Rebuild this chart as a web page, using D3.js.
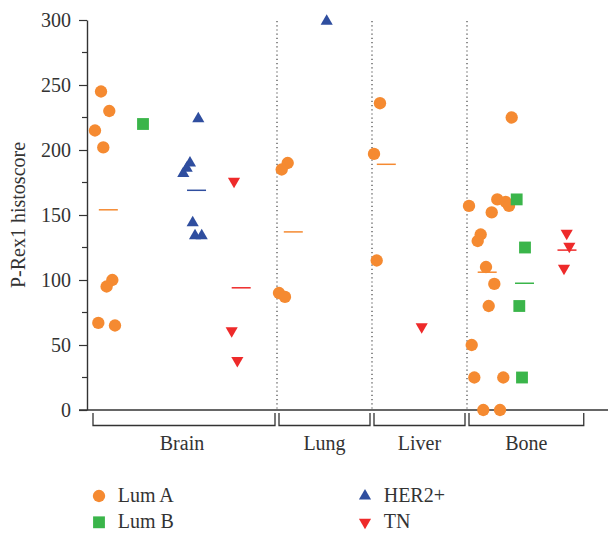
<!DOCTYPE html>
<html>
<head>
<meta charset="utf-8">
<script src="https://cdn.jsdelivr.net/npm/d3@7"></script>
<style>
  body { margin: 0; background: #fff; overflow: hidden; }
  text { font-family: "Liberation Serif", "DejaVu Serif", serif; fill: #333; }
</style>
</head>
<body>
<svg id="chart" width="608" height="535"></svg>
<script>
// sites along the x axis, in column units
var sites = ['Brain', 'Lung', 'Liver', 'Bone'];
var siteStart = [0, 4, 6, 8];
var siteEnd = [4, 6, 8, 10.5];

var yTicks = [0, 50, 100, 150, 200, 250, 300];
var yMinorTicks = [25, 75, 125, 175, 225, 275];

// points: x = column position (jittered), v = histoscore
var lumA = [
  {x: 0.295, v: 245}, {x: 0.469, v: 230}, {x: 0.168, v: 215}, {x: 0.343, v: 202},
  {x: 0.533, v: 100}, {x: 0.413, v: 95}, {x: 0.238, v: 67}, {x: 0.589, v: 65},
  {x: 4.225, v: 190}, {x: 4.099, v: 185}, {x: 4.042, v: 90}, {x: 4.168, v: 87},
  {x: 6.168, v: 236}, {x: 6.042, v: 197}, {x: 6.099, v: 115},
  {x: 8.941, v: 225}, {x: 8.638, v: 162}, {x: 8.042, v: 157}, {x: 8.520, v: 152},
  {x: 8.815, v: 160}, {x: 8.884, v: 157}, {x: 8.288, v: 135}, {x: 8.225, v: 130},
  {x: 8.400, v: 110}, {x: 8.575, v: 97}, {x: 8.457, v: 80}, {x: 8.099, v: 50},
  {x: 8.154, v: 25}, {x: 8.764, v: 25}, {x: 8.343, v: 0}, {x: 8.695, v: 0}
];
var lumB = [
  {x: 1.179, v: 220},
  {x: 9.046, v: 162}, {x: 9.221, v: 125}, {x: 9.101, v: 80}, {x: 9.158, v: 25}
];
var her2 = [
  {x: 2.343, v: 224}, {x: 2.168, v: 190}, {x: 2.099, v: 186}, {x: 2.027, v: 182},
  {x: 2.225, v: 144}, {x: 2.274, v: 134}, {x: 2.415, v: 134},
  {x: 5.046, v: 299}
];
var tn = [
  {x: 3.095, v: 176}, {x: 3.046, v: 61}, {x: 3.165, v: 38},
  {x: 7.046, v: 64},
  {x: 10.099, v: 136}, {x: 10.154, v: 126}, {x: 10.042, v: 109}
];

// group mean lines: x = centre of the line, v = value
var lumAMeans = [{x: 0.449, v: 154}, {x: 4.343, v: 137}, {x: 6.301, v: 189}, {x: 8.425, v: 106}];
var lumBMeans = [{x: 9.211, v: 97.5}];
var her2Means = [{x: 2.306, v: 169}];
var tnMeans = [{x: 3.246, v: 94}, {x: 10.105, v: 123}];

var series = [
  {name: 'Lum A', color: '#f58a31', shape: 'circle', points: lumA, means: lumAMeans},
  {name: 'Lum B', color: '#3ab54a', shape: 'square', points: lumB, means: lumBMeans},
  {name: 'HER2+', color: '#2f4e9f', shape: 'up', points: her2, means: her2Means},
  {name: 'TN', color: '#ee2a2a', shape: 'down', points: tn, means: tnMeans}
];

var svg = d3.select('#chart');
var axisColor = '#333';
var fontSize = '20px';

var x = d3.scaleLinear().domain([0, 11]).range([87, 609.5]);
var y = d3.scaleLinear().domain([0, 300]).range([410, 20]);

function shapePath(shape) {
  if (shape == 'circle') return d3.symbol(d3.symbolCircle, 120)();
  if (shape == 'square') return d3.symbol(d3.symbolSquare, 140)();
  return d3.symbol(d3.symbolTriangle, 64)();
}
function shapeTransform(shape, px, py) {
  return 'translate(' + px + ',' + py + ')' + (shape == 'down' ? ' rotate(180)' : '');
}

// dotted separators between sites
svg.append('g').selectAll('line')
  .data(siteStart.slice(1))
  .enter().append('line')
    .attr('x1', function (d) { return x(d); })
    .attr('x2', function (d) { return x(d); })
    .attr('y1', y(300) + 1)
    .attr('y2', y(0))
    .attr('stroke', '#444')
    .attr('stroke-width', 1.2)
    .attr('stroke-dasharray', '1.2,3');

// y axis
var yAxis = svg.append('g')
  .attr('transform', 'translate(' + x(0) + ',0)')
  .call(d3.axisLeft(y).tickValues(yTicks).tickSize(8).tickSizeOuter(0).tickPadding(8));
yAxis.select('.domain').attr('stroke', axisColor).attr('stroke-width', 1.4);
yAxis.selectAll('.tick line').attr('stroke', axisColor).attr('stroke-width', 1.2);
yAxis.selectAll('.tick text')
  .attr('fill', axisColor)
  .style('font-family', '"Liberation Serif", serif')
  .style('font-size', fontSize);

svg.append('g').selectAll('line')
  .data(yMinorTicks)
  .enter().append('line')
    .attr('x1', x(0) - 5)
    .attr('x2', x(0))
    .attr('y1', function (d) { return y(d); })
    .attr('y2', function (d) { return y(d); })
    .attr('stroke', axisColor)
    .attr('stroke-width', 1.2);

// baseline
svg.append('line')
  .attr('x1', x(0) - 8).attr('x2', x(11))
  .attr('y1', y(0)).attr('y2', y(0))
  .attr('stroke', axisColor)
  .attr('stroke-width', 1.4);

// y title, centred on the axis
svg.append('text')
  .attr('transform', 'translate(25,' + (y(0) + y(300)) / 2 + ') rotate(-90)')
  .attr('text-anchor', 'middle')
  .style('font-size', fontSize)
  .text('P-Rex1 histoscore');

// site brackets and labels
var bracketTop = y(0) + 3, bracketBottom = y(0) + 15.5;
var brackets = svg.append('g').selectAll('g')
  .data(sites)
  .enter().append('g');

brackets.append('path')
  .attr('d', function (d, i) {
    var x0 = x(siteStart[i]) + (i == 0 ? 6 : 2),
        x1 = x(siteEnd[i]) - 2;
    return 'M' + x0 + ',' + bracketTop + 'V' + bracketBottom + 'H' + x1 + 'V' + bracketTop;
  })
  .attr('fill', 'none')
  .attr('stroke', axisColor)
  .attr('stroke-width', 1.3);

brackets.append('text')
  .attr('x', function (d, i) { return (x(siteStart[i]) + x(siteEnd[i])) / 2; })
  .attr('y', y(0) + 39.5)
  .attr('text-anchor', 'middle')
  .style('font-size', fontSize)
  .text(function (d) { return d; });

// mean lines
series.forEach(function (s) {
  svg.append('g').selectAll('line')
    .data(s.means)
    .enter().append('line')
      .attr('x1', function (d) { return x(d.x) - 9.5; })
      .attr('x2', function (d) { return x(d.x) + 9.5; })
      .attr('y1', function (d) { return y(d.v); })
      .attr('y2', function (d) { return y(d.v); })
      .attr('stroke', s.color)
      .attr('stroke-width', 1.5);
});

// points
series.forEach(function (s) {
  svg.append('g').selectAll('path')
    .data(s.points)
    .enter().append('path')
      .attr('d', shapePath(s.shape))
      .attr('transform', function (d) { return shapeTransform(s.shape, x(d.x), y(d.v)); })
      .attr('fill', s.color);
});

// legend, two columns of two
var legend = svg.append('g').selectAll('g')
  .data(series)
  .enter().append('g')
    .attr('transform', function (d, i) {
      return 'translate(' + (i < 2 ? 99 : 365) + ',' + (i % 2 == 0 ? 496 : 522.3) + ')';
    });

legend.append('path')
  .attr('d', function (d) { return shapePath(d.shape); })
  .attr('transform', function (d) { return shapeTransform(d.shape, 0, 0); })
  .attr('fill', function (d) { return d.color; });

legend.append('text')
  .attr('x', 18.7)
  .attr('y', 6)
  .style('font-size', fontSize)
  .text(function (d) { return d.name; });
</script>
</body>
</html>
